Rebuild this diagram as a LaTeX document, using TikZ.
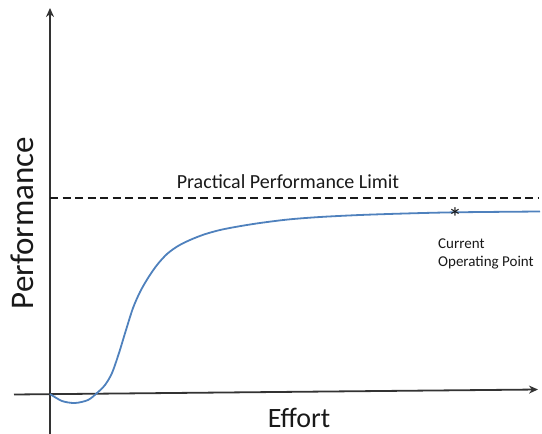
\documentclass[tikz,border=0pt]{standalone}
\usepackage{fontspec}
\setmainfont{Carlito}
\usetikzlibrary{arrows.meta}

\definecolor{curveblue}{RGB}{79,129,189}
\tikzstyle{axis}=[draw, line width=1.8pt, black!80, -{Stealth[length=9pt,width=8pt]}]
\tikzstyle{limit line}=[draw, line width=1.5pt, black!90, dash pattern=on 8pt off 4.5pt]
\tikzstyle{perf curve}=[draw, line width=1.8pt, curveblue]
\tikzstyle{axis text}=[inner sep=0pt, text=black!90]

\begin{document}
\begin{tikzpicture}[x=1pt, y=-1pt]
	    \useasboundingbox (0,0) rectangle (542,434);
	    % axes
	    \coordinate (xstart) at (14,394.5);
	    \coordinate (xend) at (538,389.5);
	    \coordinate (ystart) at (50,434);
	    \coordinate (yend) at (50,8);
	    \coordinate (limstart) at (50,198);
	    \coordinate (limend) at (538,198);
	    \path[axis] (xstart) -- (xend);
	    \path[axis] (ystart) -- (yend);
	    \path[limit line] (limstart) -- (limend);
	    % effort curve
	    \path[perf curve] plot[smooth, tension=0.5] coordinates {(50,394) (62,401) (75,403) (88,400) (97,393) (105,385) (112,373) (119,353) (126,330) (133,308) (140,292) (148,278) (157,265) (167,254) (178,246) (190,240) (204,234.5) (220,230) (238,226.5) (260,223) (288,219.5) (320,217) (360,215) (405,213.5) (456,212.3) (540,211.5)};
	    % labels
	    \node[axis text, rotate=90, font=\fontsize{33}{38}\selectfont] (perf) at (22,223) {Performance};
	    \node[axis text, anchor=base, font=\fontsize{28}{34}\selectfont] (effort) at (299,427.5) {Effort};
	    \node[axis text, anchor=base, font=\fontsize{20}{24}\selectfont] (limit) at (288,188) {Practical Performance Limit};
	    \node[axis text, anchor=base, font=\fontsize{28}{30}\selectfont] (star) at (455,227.5) {*};
	    \node[axis text, anchor=base west, font=\fontsize{15}{18}\selectfont] (current) at (438,248) {Current};
	    \node[axis text, anchor=base west, font=\fontsize{15}{18}\selectfont] (oppoint) at (438,266) {Operating Point};
	\end{tikzpicture}
\end{document}
